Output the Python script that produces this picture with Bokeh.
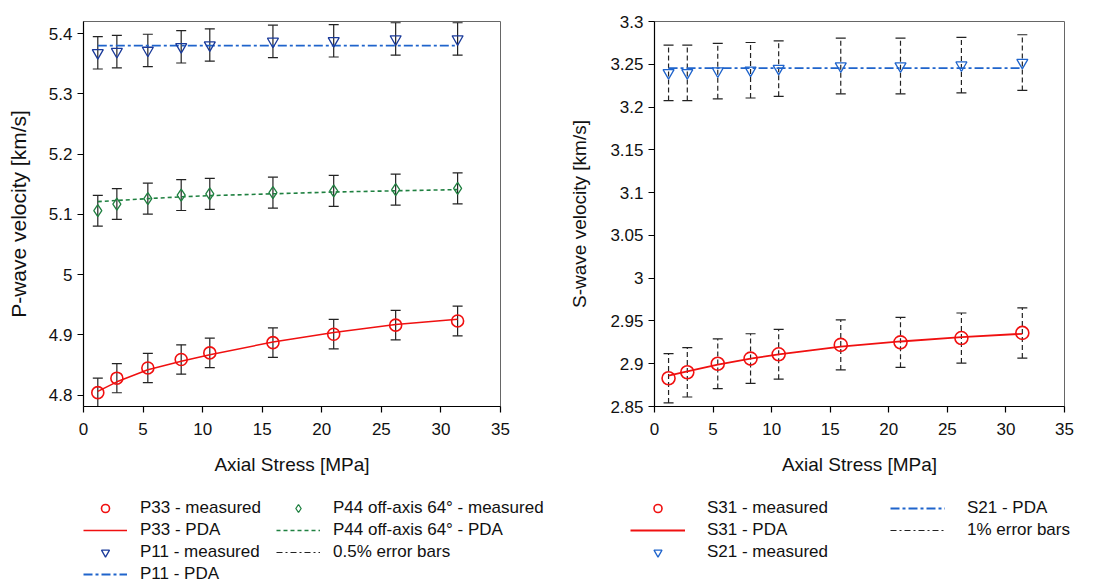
from bokeh.plotting import figure
from bokeh.models import (ColumnDataSource, Whisker, TeeHead, Legend, LegendItem,
                          FixedTicker, CustomJSTickFormatter, Range1d)
from bokeh.layouts import row, column
from bokeh.embed import file_html
from bokeh.resources import INLINE

# ---------------- data ----------------
stress = [1.2, 2.8, 5.4, 8.2, 10.6, 15.9, 21.0, 26.2, 31.4]

p33_measured = [4.804, 4.828, 4.845, 4.859, 4.870, 4.887, 4.901, 4.916, 4.923]
p33_pda = [4.806, 4.822, 4.842, 4.856, 4.867, 4.888, 4.904, 4.917, 4.926]
p44_measured = [5.106, 5.117, 5.126, 5.132, 5.134, 5.136, 5.139, 5.141, 5.143]
p44_pda = [5.121, 5.123, 5.126, 5.129, 5.131, 5.134, 5.137, 5.139, 5.141]
p11_measured = [5.368, 5.370, 5.372, 5.378, 5.381, 5.387, 5.388, 5.391, 5.391]
p11_pda = [5.380, 5.380, 5.380, 5.380, 5.380, 5.380, 5.380, 5.380, 5.380]
p_error_pct = 0.5

s31_measured = [2.883, 2.890, 2.900, 2.906, 2.911, 2.922, 2.925, 2.930, 2.936]
s31_pda = [2.886, 2.891, 2.899, 2.906, 2.911, 2.920, 2.926, 2.931, 2.935]
s21_measured = [3.240, 3.240, 3.242, 3.243, 3.245, 3.248, 3.248, 3.249, 3.252]
s21_pda = [3.2455, 3.2455, 3.2455, 3.2455, 3.2455, 3.2455, 3.2455, 3.2455, 3.2455]
s_error_pct = 1.0

x_ticks = [0, 5, 10, 15, 20, 25, 30, 35]
p_ticks = [4.8, 4.9, 5.0, 5.1, 5.2, 5.3, 5.4]
s_ticks = [2.85, 2.9, 2.95, 3.0, 3.05, 3.1, 3.15, 3.2, 3.25, 3.3]

FONT = "Liberation Sans"
RED = "#f01010"
BLUE = "#1f64cc"
NAVY = "#1a3a9a"
GREEN = "#1f8040"
BAR = "#222222"
fmt = CustomJSTickFormatter(code="return tick.toFixed(2).replace(/\\.?0+$/, '');")

# visual styles shared by plot glyphs and legend glyphs
ST_P33 = dict(marker="circle", size=12, fill_color=None, line_color=RED, line_width=1.6)
ST_P44 = dict(marker="diamond", size=12, fill_color=None, line_color=GREEN, line_width=1.3)
ST_P11 = dict(marker="inverted_triangle", size=11, fill_color=None, line_color=NAVY, line_width=1.3)
LN_P33 = dict(line_color=RED, line_width=1.5)
LN_P44 = dict(line_color=GREEN, line_width=1.6, line_dash="4 3")
LN_P11 = dict(line_color=BLUE, line_width=1.8, line_dash="9 3 3 3")
ST_S31 = dict(marker="circle", size=13, fill_color=None, line_color=RED, line_width=1.6)
ST_S21 = dict(marker="inverted_triangle", size=11, fill_color=None, line_color=BLUE, line_width=1.3)
LN_S31 = dict(line_color=RED, line_width=1.8)
LN_S21 = dict(line_color=BLUE, line_width=1.8, line_dash="9 3 3 3")
LN_ERR = dict(line_color=BAR, line_width=1.2, line_dash="6 3 2 3")


def style(p, yticks, ylabel_size, ystandoff):
    p.xgrid.visible = False
    p.ygrid.visible = False
    p.outline_line_color = "#666666"
    p.xaxis.ticker = FixedTicker(ticks=x_ticks)
    p.yaxis.ticker = FixedTicker(ticks=yticks)
    p.yaxis.formatter = fmt
    for ax in (p.xaxis[0], p.yaxis[0]):
        ax.axis_line_color = "black"
        ax.axis_line_width = 1.2
        ax.major_tick_line_color = "black"
        ax.major_tick_line_width = 1.2
        ax.minor_tick_line_color = None
        ax.major_tick_out = 6
        ax.major_tick_in = 0
        ax.major_label_text_font = FONT
        ax.major_label_text_font_size = "17px"
        ax.major_label_text_color = "#111111"
        ax.axis_label_text_font = FONT
        ax.axis_label_text_font_style = "normal"
        ax.axis_label_text_color = "#111111"
    p.xaxis.major_label_standoff = 10
    p.xaxis.axis_label_text_font_size = "19px"
    p.xaxis.axis_label_standoff = 16
    p.yaxis.axis_label_text_font_size = ylabel_size
    p.yaxis.axis_label_standoff = ystandoff


def error_bars(p, y, pct, dash):
    lo = [v * (1 - pct / 100) for v in y]
    hi = [v * (1 + pct / 100) for v in y]
    src = ColumnDataSource(dict(x=stress, lo=lo, hi=hi))
    w = Whisker(base="x", lower="lo", upper="hi", source=src, dimension="height",
                line_color=BAR, line_width=1.2, line_dash=dash,
                upper_head=TeeHead(size=10, line_color=BAR, line_width=1.2),
                lower_head=TeeHead(size=10, line_color=BAR, line_width=1.2))
    p.add_layout(w)


def make_legend(items, nrows, loc, gw, standoff, lw):
    return Legend(items=items, orientation="vertical", nrows=nrows, location=loc,
                  margin=0, padding=0, border_line_color=None, background_fill_alpha=0,
                  glyph_width=gw, glyph_height=20, label_height=20, spacing=2,
                  label_standoff=standoff, label_width=lw,
                  label_text_font=FONT, label_text_font_size="17px",
                  label_text_color="#111111")


# ---------------- left: P-wave ----------------
p1 = figure(width=540, height=480, x_range=Range1d(0, 35), y_range=Range1d(4.781, 5.42),
            output_backend="svg", toolbar_location=None,
            min_border_left=83, min_border_right=40, min_border_top=21, min_border_bottom=74,
            x_axis_label="Axial Stress [MPa]", y_axis_label="P-wave velocity [km/s]")
style(p1, p_ticks, "21px", 16)

error_bars(p1, p33_measured, p_error_pct, "solid")
error_bars(p1, p44_measured, p_error_pct, "solid")
error_bars(p1, p11_measured, p_error_pct, "solid")

p1.line(stress, p33_pda, **LN_P33)
p1.line(stress, p44_pda, **LN_P44)
p1.line(stress, p11_pda, **LN_P11)
p1.scatter(stress, p33_measured, **ST_P33)
p1.scatter(stress, p44_measured, **ST_P44)
p1.scatter(stress, p11_measured, **ST_P11)

# ---------------- right: S-wave ----------------
p2 = figure(width=559, height=480, x_range=Range1d(0, 35), y_range=Range1d(2.85, 3.3),
            output_backend="svg", toolbar_location=None,
            min_border_left=114, min_border_right=35, min_border_top=15, min_border_bottom=72,
            x_axis_label="Axial Stress [MPa]", y_axis_label="S-wave velocity [km/s]")
style(p2, s_ticks, "19px", 17)

error_bars(p2, s31_measured, s_error_pct, "5 3")
error_bars(p2, s21_measured, s_error_pct, "5 3")

p2.line(stress, s31_pda, **LN_S31)
p2.line(stress, s21_pda, **LN_S21)
p2.scatter(stress, s31_measured, **ST_S31)
p2.scatter(stress, s21_measured, **ST_S21)

# ---------------- legend strip under both charts ----------------
lf = figure(width=1099, height=108, x_range=Range1d(0, 1), y_range=Range1d(0, 1),
            x_axis_location=None, y_axis_location=None,
            min_border_left=83, min_border_right=0, min_border_top=0, min_border_bottom=0,
            output_backend="svg", toolbar_location=None)
lf.xgrid.visible = False
lf.ygrid.visible = False
lf.outline_line_color = None
nx, ny = [-1], [-1]

leg1 = make_legend([
    LegendItem(label="P33 - measured", renderers=[lf.scatter(nx, ny, **ST_P33)]),
    LegendItem(label="P33 - PDA", renderers=[lf.line(nx, ny, **LN_P33)]),
    LegendItem(label="P11 - measured", renderers=[lf.scatter(nx, ny, **ST_P11)]),
    LegendItem(label="P11 - PDA", renderers=[lf.line(nx, ny, **LN_P11)]),
    LegendItem(label="P44 off-axis 64° - measured", renderers=[lf.scatter(nx, ny, **ST_P44)]),
    LegendItem(label="P44 off-axis 64° - PDA", renderers=[lf.line(nx, ny, **LN_P44)]),
    LegendItem(label="0.5% error bars", renderers=[lf.line(nx, ny, **LN_ERR)]),
], 4, (0, 4), 44, 13, 134)
lf.add_layout(leg1, "center")

leg2 = make_legend([
    LegendItem(label="S31 - measured", renderers=[lf.scatter(nx, ny, **ST_S31)]),
    LegendItem(label="S31 - PDA", renderers=[lf.line(nx, ny, **LN_S31)]),
    LegendItem(label="S21 - measured", renderers=[lf.scatter(nx, ny, **ST_S21)]),
    LegendItem(label="S21 - PDA", renderers=[lf.line(nx, ny, **LN_S21)]),
    LegendItem(label="1% error bars", renderers=[lf.line(nx, ny, **LN_ERR)]),
], 3, (547, 26), 55, 22, 181)
lf.add_layout(leg2, "center")

layout = column(row(p1, p2), lf)
open("out.html", "w").write(file_html(layout, INLINE))
